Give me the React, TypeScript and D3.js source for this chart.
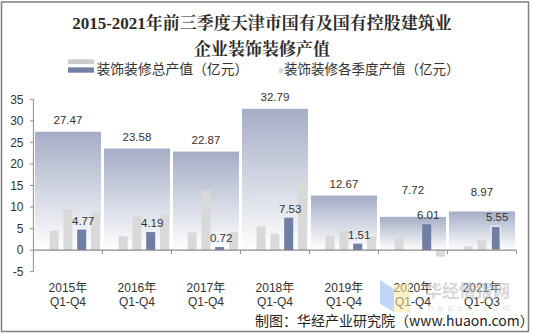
import React, { useEffect } from "react";
import * as d3 from "d3";

const years = ["2015年", "2016年", "2017年", "2018年", "2019年", "2020年", "2021年"];
const periods = ["Q1-Q4", "Q1-Q4", "Q1-Q4", "Q1-Q4", "Q1-Q4", "Q1-Q4", "Q1-Q3"];
const totals = [27.47, 23.58, 22.87, 32.79, 12.67, 7.72, 8.97];
const q1 = [4.5, 3.2, 4.1, 5.5, 3.4, 2.7, 0.9];
const q2 = [9.5, 7.9, 13.9, 3.8, 4.6, 0, 2.5];
const q3 = [4.77, 4.19, 0.72, 7.53, 1.51, 6.01, 5.55];
const q4: (number | null)[] = [8.7, 8.29, 4.15, 15.9, 3.16, -1.5, null];
const yTicks = [-5, 0, 5, 10, 15, 20, 25, 30, 35];
const titleLines = ["2015-2021年前三季度天津市国有及国有控股建筑业", "企业装饰装修产值"];
const legendTotal = "装饰装修总产值（亿元）";
const legendQuarter = "装饰装修各季度产值（亿元）";
const sourceText = "制图：华经产业研究院（www.huaon.com）";

const NUM_FONT = "'Liberation Sans', Arial, 'Noto Sans CJK SC', sans-serif";
const CJK_FONT = "'Noto Sans CJK SC', 'Liberation Sans', sans-serif";

export default function App() {
  useEffect(() => {
    document.body.style.margin = "0";
  }, []);

  const W = 533;
  const H = 335;
  const y = d3.scaleLinear().domain([-5, 35]).range([271.7, 99.3]);
  const x = d3.scaleBand<string>().domain(years).range([33.4, 516.4]).padding(0);
  const bw = x.bandwidth();
  const inner = d3.scaleBand<number>().domain([0, 1, 2, 3, 4]).range([0, bw]).padding(0);
  const slot = inner.bandwidth();
  const qbw = 9;
  const quarters = [q1, q2, q3, q4];
  const axisColor = "#8c8c8c";
  const y0 = y(0);

  return (
    <svg width={W} height={H} style={{ display: "block", background: "#fff" }}>
      <defs>
        <linearGradient id="totGrad" x1="0" y1="0" x2="0" y2="1">
          <stop offset="0%" stopColor="#a5adc6" />
          <stop offset="100%" stopColor="#ffffff" />
        </linearGradient>
      </defs>
      <rect x={1.5} y={2} width={527} height={329.5} fill="#fff" stroke="#7f7f7f" strokeWidth={1.5} />

      {/* Title */}
      {titleLines.map((t, i) => (
        <text
          key={i}
          x={262}
          y={29 + i * 26}
          textAnchor="middle"
          fontSize={17}
          fontWeight="bold"
          fill="#2b2b2b"
          fontFamily="'Liberation Serif', 'Noto Serif CJK SC', 'Noto Sans CJK SC', serif"
        >
          {t}
        </text>
      ))}

      {/* Legend */}
      <rect x={68} y={59.3} width={26} height={4.8} fill="#c9cccd" />
      <rect x={68} y={67.4} width={26} height={5.3} fill="#7280a6" />
      <text x={96.5} y={74} fontSize={13.8} fill="#333" fontFamily={CJK_FONT}>
        {legendTotal}
      </text>
      <rect x={278.7} y={68.3} width={4.3} height={4.8} fill="#d9d9d9" />
      <text x={284} y={74} fontSize={13.5} fill="#333" fontFamily={CJK_FONT}>
        {legendQuarter}
      </text>

      {/* Y axis */}
      <line x1={33.4} x2={33.4} y1={y(35)} y2={y(-5)} stroke={axisColor} strokeWidth={1} />
      {yTicks.map((t) => (
        <g key={t}>
          <line x1={30} x2={33.4} y1={y(t)} y2={y(t)} stroke={axisColor} />
          <text
            x={23.5}
            y={y(t) + 4.3}
            textAnchor="end"
            fontSize={12}
            fill="#333"
            fontFamily={NUM_FONT}
          >
            {t}
          </text>
        </g>
      ))}

      {/* Total bars */}
      {years.map((yr, i) => {
        const gx = x(yr)!;
        return (
          <rect
            key={"t" + i}
            x={gx + 1.6}
            y={y(totals[i])}
            width={bw - 3}
            height={y0 - y(totals[i])}
            fill="url(#totGrad)"
          />
        );
      })}

      {/* Quarter bars */}
      {years.map((yr, i) =>
        quarters.map((qs, qi) => {
          const v = qs[i];
          if (v === null || v === 0) return null;
          const cx = x(yr)! + inner(qi + 1)! + slot / 2;
          const dark = qi === 2;
          return (
            <rect
              key={"q" + i + "-" + qi}
              x={cx - qbw / 2}
              y={Math.min(y(v), y0)}
              width={qbw}
              height={Math.abs(y0 - y(v))}
              fill={dark ? "#717ea3" : "#d9d9d9"}
              stroke={dark && i === years.length - 1 ? "#fff" : "none"}
              strokeWidth={1}
            />
          );
        })
      )}

      {/* X axis */}
      <line x1={33.4} x2={516.4} y1={y0} y2={y0} stroke={axisColor} strokeWidth={1.3} />
      {years.map((yr, i) => (
        <line key={"xt" + i} x1={x(yr)! + bw} x2={x(yr)! + bw} y1={y0} y2={y0 + 4} stroke={axisColor} />
      ))}

      {/* X labels */}
      {years.map((yr, i) => {
        const cx = x(yr)! + bw / 2;
        return (
          <g key={"xl" + i} fontSize={12} fill="#333" fontFamily={NUM_FONT} textAnchor="middle">
            <text x={cx} y={291.5}>{yr}</text>
            <text x={cx} y={306}>{periods[i]}</text>
          </g>
        );
      })}

      {/* Labels */}
      {years.map((yr, i) => {
        const gx = x(yr)!;
        const cxQ3 = gx + inner(3)! + slot / 2;
        const q3Y = y(q3[i]) - 9;
        let totY = y(totals[i]) - 12;
        if (totY > q3Y - 22) totY = q3Y - 25;
        return (
          <g key={"lb" + i} fontSize={11.5} fill="#333" fontFamily={NUM_FONT} textAnchor="middle">
            <text x={gx + bw / 2} y={totY} dominantBaseline="central">
              {totals[i].toFixed(2)}
            </text>
            <text x={cxQ3 + 1.5} y={q3Y} dominantBaseline="central">
              {q3[i].toFixed(2)}
            </text>
          </g>
        );
      })}

      {/* Source */}
      <text x={255} y={325.5} fontSize={14} fill="#222" fontFamily={CJK_FONT}>
        {sourceText}
      </text>

      {/* Watermark */}
      <g opacity={0.55}>
        <polygon points="380,280 394,289 394,312 380,304" fill="#8fb8f5" />
        <polygon points="394,285 410,283 410,312 394,312" fill="#fde6a0" />
      </g>
      <text x={425} y={297} fontSize={17} fontWeight="bold" fill="#bdbdbd" opacity={0.6} fontFamily={CJK_FONT}>
        华经情报网
      </text>
      <text x={428} y={311} fontSize={9} fill="#c8c8c8" opacity={0.6} textLength={82} fontFamily={NUM_FONT}>
        huaon.com
      </text>
    </svg>
  );
}
